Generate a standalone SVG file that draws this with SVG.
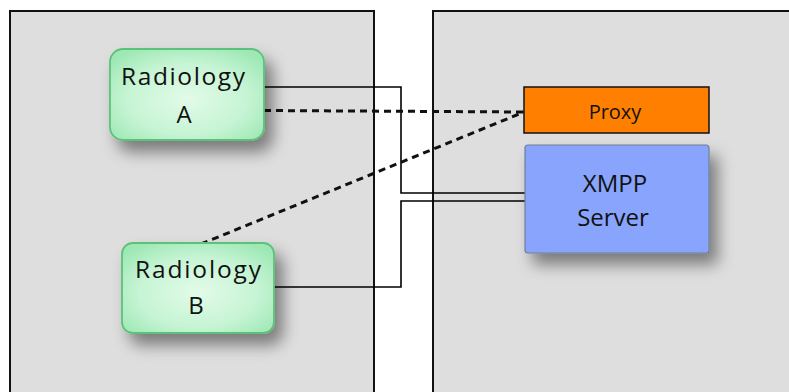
<svg xmlns="http://www.w3.org/2000/svg" width="789" height="392" viewBox="0 0 789 392">
<style>
.panel{fill:#dedede;stroke:#111;stroke-width:2}
.rad{fill:url(#gr);stroke:#5cc27a;stroke-width:1.8}
.lbl{font-family:"Open Sans","DejaVu Sans",sans-serif;fill:#111;text-anchor:middle}
.solid{fill:none;stroke:#000;stroke-width:1.6}
.dash{fill:none;stroke:#111;stroke-width:3;stroke-dasharray:7 5}
</style>
<defs>
<radialGradient id="gr" cx="50%" cy="55%" r="65%">
<stop offset="0" stop-color="#e2fbe8"/>
<stop offset="0.6" stop-color="#c6f4d4"/>
<stop offset="1" stop-color="#9de8b4"/>
</radialGradient>
<filter id="sh" x="-20%" y="-20%" width="160%" height="170%">
<feDropShadow dx="8" dy="11" stdDeviation="8" flood-color="#000" flood-opacity="0.45"/>
</filter>
</defs>
<rect width="789" height="392" fill="#fff"/>
<g id="panel-left"><rect class="panel" x="10" y="11" width="364" height="400"/></g>
<g id="panel-right"><rect class="panel" x="433" y="11" width="400" height="400"/></g>
<g id="connectors">
<polyline class="solid" points="264,87 401,87 401,193 533,193"/>
<polyline class="solid" points="274,287 401,287 401,201 525,201"/>
<line class="dash" x1="264" y1="110.5" x2="524" y2="112"/>
<line class="dash" x1="201" y1="244" x2="524" y2="112"/>
</g>
<g id="radiology-a">
<rect class="rad" x="110" y="49" width="154" height="91" rx="13" filter="url(#sh)"/>
<text class="lbl" x="183" y="85" font-size="24.5" textLength="124" lengthAdjust="spacing">Radiology</text>
<text class="lbl" x="184" y="123" font-size="24">A</text>
</g>
<g id="radiology-b">
<rect class="rad" x="122" y="243" width="152" height="90" rx="11" filter="url(#sh)"/>
<text class="lbl" x="198" y="278" font-size="24.5" textLength="126" lengthAdjust="spacing">Radiology</text>
<text class="lbl" x="196" y="314" font-size="24">B</text>
</g>
<g id="proxy">
<rect x="524" y="87" width="185" height="46" fill="#ff8000" stroke="#111" stroke-width="1.5"/>
<text class="lbl" x="615" y="119" font-size="20">Proxy</text>
</g>
<g id="xmpp-server">
<rect x="525" y="145" width="184" height="108" rx="3" fill="#88a4fc" stroke="#6f7e9a" stroke-width="1.2" filter="url(#sh)"/>
<text class="lbl" x="615" y="192" font-size="24" fill="#2a2f44">XMPP</text>
<text class="lbl" x="613" y="226" font-size="24">Server</text>
</g>
</svg>
